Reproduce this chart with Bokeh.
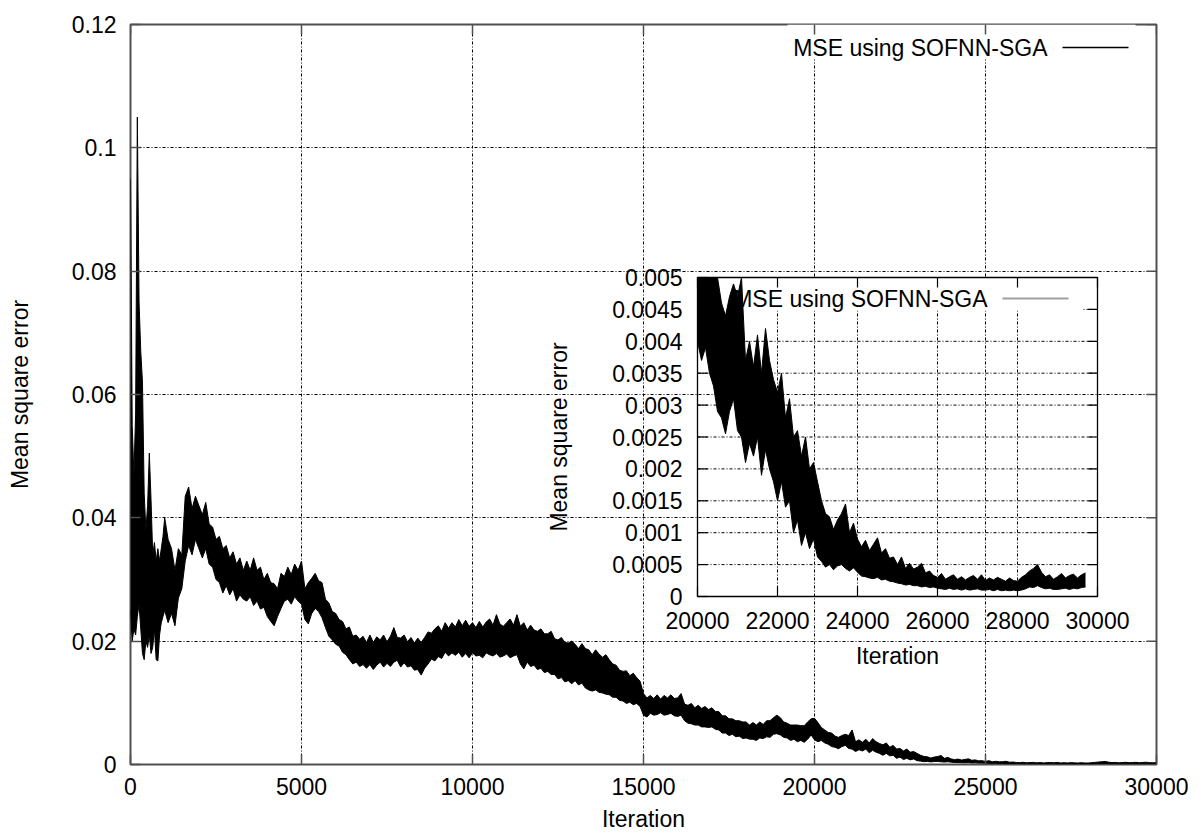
import numpy as np
from bokeh.plotting import figure
from bokeh.models import Range1d, FixedTicker
from bokeh.embed import file_html
from bokeh.resources import INLINE
from bokeh.core.properties import value

# ---------------- data ----------------
# sampling grid of the iteration axis
iterations = list(range(0, 1000, 50)) + list(range(1000, 30001, 100))

# upper / lower envelope of the noisy MSE trace, in units of 1e-3
mse_upper_milli = [
    95, 55, 47, 57, 105, 75, 67, 62, 44, 38, 42, 50.5, 43, 34, 36, 33, 35, 33, 35, 37,  # 0-950
    40, 36.5, 35, 31.5, 35, 34, 43.5, 45, 41.5, 43.5,         # 1000
    42, 40.5, 42.5, 39, 38.5, 36.5, 37, 35, 35.5, 33.5,       # 2000
    34.5, 32.5, 33.5, 31.5, 33, 31.5, 33.5, 31.5, 32, 30,     # 3000
    31, 29.5, 29.3, 28.5, 31, 30.5, 32, 30.8, 32.5, 31.5,     # 4000
    33, 28.5, 29.5, 30.2, 31, 29.8, 29.5, 26.8, 26.2, 24.8,   # 5000
    24.5, 23.5, 23.2, 22, 22.3, 20.8, 21, 20.3, 20.8, 19.8,   # 6000
    21, 19.8, 20.7, 20.2, 21, 19.9, 20.8, 22.2, 20.6, 20.5,   # 7000
    21, 19.9, 20.6, 19.7, 20.5, 19.8, 20.6, 21.5, 21.3, 22,   # 8000
    22.5, 21.6, 23, 22.1, 23, 22.3, 23.5, 22.5, 23.4, 22.4,   # 9000
    23, 22.2, 23.2, 22.3, 23.1, 23.6, 22.6, 24.3, 22.8, 22.4,  # 10000
    23, 23.6, 22.6, 24.3, 22.4, 23, 21.8, 22.6, 21.8, 21.6,   # 11000
    22, 21.2, 21.2, 21.6, 20.4, 20.2, 20.6, 19.8, 19.7, 20,   # 12000
    19.5, 18.8, 19.6, 18.8, 18.6, 17.8, 18.6, 17.9, 17.4, 17.8,  # 13000
    17, 16.3, 16.1, 15.3, 15.1, 15.2, 14.4, 14.8, 14.1, 13.5,  # 14000
    11.5, 10.8, 11.2, 10.7, 11.3, 10.6, 11.2, 10.8, 11.3, 10.7,  # 15000
    10.8, 11.5, 9.8, 9.6, 9.9, 9.2, 9.6, 9.1, 9.4, 8.9,       # 16000
    9.2, 8.6, 8.6, 7.9, 7.9, 7.4, 7.4, 7.1, 7.1, 6.9,         # 17000
    6.9, 6.4, 6.8, 6.4, 6.9, 6.5, 7.1, 7.1, 7.6, 8,           # 18000
    7.6, 6.9, 6.7, 6.4, 6.4, 6.4, 6.3, 6.3, 6.9, 7.4,         # 19000
    7.5, 6.8, 6.0, 5.6, 5.2, 5.1, 4.6, 4.4, 4.7, 4.9,         # 20000
    4.7, 5.6, 3.7, 4.0, 3.6, 4.1, 3.5, 4.2, 3.7, 3.4,         # 21000
    3.2, 3.5, 2.8, 3.1, 2.5, 2.6, 2.2, 2.5, 2.0, 2.1,         # 22000
    1.8, 1.5, 1.3, 1.25, 1.05, 1.2, 1.3, 1.45, 1.0, 1.15,     # 23000
    0.9, 0.78, 0.88, 0.72, 0.82, 0.92, 0.68, 0.75, 0.6, 0.62,  # 24000
    0.5, 0.62, 0.44, 0.52, 0.43, 0.46, 0.52, 0.37, 0.4, 0.33,  # 25000
    0.3, 0.36, 0.27, 0.31, 0.34, 0.27, 0.31, 0.26, 0.3, 0.33,  # 26000
    0.27, 0.34, 0.25, 0.29, 0.26, 0.3, 0.27, 0.24, 0.29, 0.25,  # 27000
    0.24, 0.3, 0.34, 0.4, 0.44, 0.5, 0.38, 0.31, 0.34, 0.27,   # 28000
    0.31, 0.36, 0.29, 0.33, 0.35, 0.29, 0.34, 0.37, 0.3, 0.28,  # 29000
    0.3,                                                       # 30000
]
mse_lower_milli = [
    25, 20, 22, 21, 24, 26, 22, 18, 17, 20, 19, 21, 18, 19, 22, 17, 16.8, 21, 23, 24,  # 0-950
    25, 23, 24.5, 22.5, 27, 28.5, 33, 35.5, 34, 36.5,         # 1000
    35, 33.5, 35, 32.5, 32, 30, 29.5, 27.8, 29, 27.5,         # 2000
    28.5, 26.5, 27.5, 26.8, 26.5, 27.2, 25.8, 26.5, 25.2, 25.5,  # 3000
    24, 23.2, 22.5, 24, 25.3, 26.5, 26.8, 26, 27.2, 26.5,     # 4000
    26, 23.5, 22.8, 24.5, 25.3, 24.8, 23.8, 22.2, 20.8, 20.2,  # 5000
    19.5, 19.2, 18.2, 17.8, 17, 16.3, 16.6, 15.9, 16.2, 15.6,  # 6000
    16.2, 15.4, 16.1, 16.6, 15.8, 16.4, 15.9, 16.6, 16.9, 15.8,  # 7000
    16.5, 15.8, 16, 15.3, 15.4, 14.5, 15.6, 16.3, 17.1, 16.8,  # 8000
    17.5, 17.2, 18.2, 17.6, 18.1, 17.7, 18.2, 17.4, 18, 17.3,  # 9000
    18.1, 17.6, 17.7, 17.3, 18.1, 17.8, 17.6, 18, 17.4, 17.6,  # 10000
    17.9, 17.3, 17.6, 17.8, 16.3, 15.5, 16.6, 15.9, 16.1, 15.4,  # 11000
    15.6, 14.9, 15.1, 14.6, 14.6, 13.9, 14.1, 13.4, 13.6, 13.1,  # 12000
    13.6, 12.9, 13.2, 12.4, 12.1, 11.9, 12.1, 11.7, 11.6, 11.4,  # 13000
    11.3, 10.9, 10.9, 10.4, 10.3, 9.9, 10.1, 9.7, 9.9, 9.4,   # 14000
    8, 7.7, 8.3, 8.0, 8.1, 8.4, 8.0, 8.1, 8.3, 7.9,           # 15000
    7.8, 8, 7.1, 6.7, 6.6, 6.4, 6.4, 6.1, 6.1, 6.0,           # 16000
    6.1, 5.7, 5.6, 5.1, 5.1, 4.7, 4.9, 4.5, 4.6, 4.2,         # 17000
    4.3, 4.1, 4.1, 3.9, 4.3, 4.2, 4.5, 4.4, 4.9, 5,           # 18000
    4.8, 4.4, 4.3, 3.9, 4.1, 3.7, 3.9, 3.6, 4.1, 4.8,         # 19000
    4.0, 3.7, 3.9, 3.5, 3.3, 2.9, 2.8, 2.55, 2.9, 3.1,        # 20000
    2.6, 2.5, 2.1, 2.4, 2.2, 2.5, 1.9, 2.3, 2.0, 1.8,         # 21000
    1.5, 1.8, 1.4, 1.5, 1.0, 1.2, 0.8, 1.0, 0.75, 0.9,        # 22000
    0.62, 0.55, 0.46, 0.5, 0.42, 0.48, 0.5, 0.44, 0.4, 0.45,  # 23000
    0.38, 0.32, 0.31, 0.29, 0.28, 0.3, 0.26, 0.27, 0.24, 0.23,  # 24000
    0.21, 0.2, 0.18, 0.19, 0.17, 0.17, 0.15, 0.16, 0.14, 0.15,  # 25000
    0.13, 0.12, 0.11, 0.13, 0.11, 0.12, 0.1, 0.12, 0.1, 0.11,  # 26000
    0.12, 0.1, 0.1, 0.11, 0.09, 0.11, 0.09, 0.1, 0.09, 0.1,   # 27000
    0.09, 0.1, 0.12, 0.15, 0.14, 0.17, 0.14, 0.12, 0.13, 0.11,  # 28000
    0.11, 0.12, 0.13, 0.11, 0.13, 0.12, 0.14, 0.15, 0.13, 0.12,  # 29000
    0.13,                                                      # 30000
]

series_label = "MSE using SOFNN-SGA"
x_label = "Iteration"
y_label = "Mean square error"

x_ticks = [0, 5000, 10000, 15000, 20000, 25000, 30000]
x_tick_labels = ["0", "5000", "10000", "15000", "20000", "25000", "30000"]
y_ticks = [0, 0.02, 0.04, 0.06, 0.08, 0.1, 0.12]
y_tick_labels = ["0", "0.02", "0.04", "0.06", "0.08", "0.1", "0.12"]

inset_x_ticks = [20000, 22000, 24000, 26000, 28000, 30000]
inset_x_labels = ["20000", "22000", "24000", "26000", "28000", "30000"]
inset_y_ticks = [0, 0.0005, 0.001, 0.0015, 0.002, 0.0025, 0.003, 0.0035, 0.004, 0.0045, 0.005]
inset_y_labels = ["0", "0.0005", "0.001", "0.0015", "0.002", "0.0025", "0.003",
                  "0.0035", "0.004", "0.0045", "0.005"]
inset_x_last = 29700   # the inset trace stops here

# ---------------- layout (pixels) ----------------
W, H = 1199, 834
FR_L, FR_R, FR_T, FR_B = 130, 1156, 24, 764
IN_L, IN_R, IN_T, IN_B = 697, 1097, 277, 596
X0, X1, Y0, Y1 = 0, 30000, 0, 0.12
IX0, IX1, IY0, IY1 = 20000, 30000, 0, 0.005

FONT = value("Liberation Sans")
FS = "23px"
GRID_DASH = "3 2 1 2"
FRAME_COL = "#505050"
TICK_LEN = 10


def mx(px):
    return X0 + (px - FR_L) / (FR_R - FR_L) * (X1 - X0)


def my(py):
    return Y0 + (FR_B - py) / (FR_B - FR_T) * (Y1 - Y0)


sx_in = (IX1 - IX0) / (IN_R - IN_L)
sy_in = (IY1 - IY0) / (IN_B - IN_T)


def ix(px):
    return IX0 + (px - IN_L) * sx_in


def iy(py):
    return IY0 + (IN_B - py) * sy_in


p = figure(width=W, height=H, output_backend="svg", toolbar_location=None,
           x_range=Range1d(X0, X1), y_range=Range1d(Y0, Y1),
           min_border_left=FR_L, min_border_right=W - FR_R,
           min_border_top=FR_T, min_border_bottom=H - FR_B,
           background_fill_color="white", border_fill_color="white")
p.extra_x_ranges["ix"] = Range1d(IX0 - (IN_L - FR_L) * sx_in, IX1 + (FR_R - IN_R) * sx_in)
p.extra_y_ranges["iy"] = Range1d(IY0 - (FR_B - IN_B) * sy_in, IY1 + (IN_T - FR_T) * sy_in)

p.outline_line_color = FRAME_COL
p.outline_line_width = 2

# main axes
for ax in (p.xaxis[0], p.yaxis[0]):
    ax.axis_line_color = None
    ax.major_tick_in = TICK_LEN
    ax.major_tick_out = 0
    ax.major_tick_line_color = FRAME_COL
    ax.major_tick_line_width = 1.5
    ax.minor_tick_line_color = None
    ax.major_label_text_font = "Liberation Sans"
    ax.major_label_text_font_size = FS
    ax.major_label_text_color = "black"
    ax.axis_label_text_font = "Liberation Sans"
    ax.axis_label_text_font_size = FS
    ax.axis_label_text_font_style = "normal"
    ax.axis_label_text_color = "black"

p.xaxis.ticker = FixedTicker(ticks=x_ticks)
p.xaxis.major_label_overrides = dict(zip(x_ticks, x_tick_labels))
p.xaxis.major_label_standoff = 13
p.xaxis.axis_label = x_label
p.xaxis.axis_label_standoff = 8

p.yaxis.ticker = FixedTicker(ticks=y_ticks)
p.yaxis.major_label_overrides = dict(zip(y_ticks, y_tick_labels))
p.yaxis.major_label_standoff = 14
p.yaxis.axis_label = y_label
p.yaxis.axis_label_standoff = 36

# main grid
p.xgrid.ticker = FixedTicker(ticks=x_ticks)
p.ygrid.ticker = FixedTicker(ticks=y_ticks)
for g in (p.xgrid[0], p.ygrid[0]):
    g.grid_line_color = "black"
    g.grid_line_dash = GRID_DASH
    g.grid_line_width = 1

x = np.array(iterations, dtype=float)
hi = np.array(mse_upper_milli) / 1000.0
lo = np.array(mse_lower_milli) / 1000.0

# main legend backdrop (blanks the grid under the key)
p.quad(left=mx(787), right=mx(1135), bottom=my(59), top=Y1,
       fill_color="white", line_color=None)

# mirrored inner ticks on top and right
nxt, nyt = len(x_ticks), len(y_ticks)
p.ray(x=x_ticks, y=[Y1] * nxt, length=TICK_LEN, length_units="screen", angle=-np.pi / 2,
      line_color=FRAME_COL, line_width=1.5)
p.ray(x=[X1] * nyt, y=y_ticks, length=TICK_LEN, length_units="screen", angle=np.pi,
      line_color=FRAME_COL, line_width=1.5)

# main trace
p.varea(x=x, y1=lo, y2=hi, fill_color="black")
p.line(x, hi, line_color="black", line_width=1)
p.line(x, lo, line_color="black", line_width=1)

# main key
p.text(x=[mx(1047)], y=[my(47)], text=[series_label], text_align="right",
       text_baseline="middle", text_font=FONT, text_font_size=FS, text_color="black")
p.line(x=[mx(1062), mx(1128)], y=[my(47), my(47)], line_color="black", line_width=1.3)

# ---------------- inset ----------------
R = dict(x_range_name="ix", y_range_name="iy")
gx = inset_x_ticks[1:-1]
gy = inset_y_ticks[1:-1]
p.segment(x0=gx, y0=[IY0] * len(gx), x1=gx, y1=[IY1] * len(gx),
          line_color="black", line_dash=GRID_DASH, line_width=1, **R)
p.segment(x0=[IX0] * len(gy), y0=gy, x1=[IX1] * len(gy), y1=gy,
          line_color="black", line_dash=GRID_DASH, line_width=1, **R)

# inset key backdrop
p.quad(left=ix(700), right=ix(1083), bottom=iy(310), top=IY1,
       fill_color="white", line_color=None, **R)

mask = (x >= IX0) & (x <= inset_x_last)
ihi = np.minimum(hi[mask], IY1)
ilo = np.minimum(lo[mask], IY1)
p.varea(x=x[mask], y1=ilo, y2=ihi, fill_color="black", **R)
p.line(x[mask], ihi, line_color="black", line_width=1, **R)
p.line(x[mask], ilo, line_color="black", line_width=1, **R)

# inset frame and inner ticks
p.quad(left=IX0, right=IX1, bottom=IY0, top=IY1, fill_color=None,
       line_color="black", line_width=1.3, **R)
nx, ny = len(inset_x_ticks), len(inset_y_ticks)
p.ray(x=inset_x_ticks, y=[IY0] * nx, length=TICK_LEN, length_units="screen", angle=np.pi / 2,
      line_color="black", line_width=1.2, **R)
p.ray(x=inset_x_ticks, y=[IY1] * nx, length=TICK_LEN, length_units="screen", angle=-np.pi / 2,
      line_color="black", line_width=1.2, **R)
p.ray(x=[IX0] * ny, y=inset_y_ticks, length=TICK_LEN, length_units="screen", angle=0,
      line_color="black", line_width=1.2, **R)
p.ray(x=[IX1] * ny, y=inset_y_ticks, length=TICK_LEN, length_units="screen", angle=np.pi,
      line_color="black", line_width=1.2, **R)

# inset texts
p.text(x=[IX0] * ny, y=inset_y_ticks, text=inset_y_labels, x_offset=-15,
       text_align="right", text_baseline="middle", text_font=FONT, text_font_size=FS,
       text_color="black", **R)
p.text(x=inset_x_ticks, y=[IY0] * nx, text=inset_x_labels, y_offset=24,
       text_align="center", text_baseline="middle", text_font=FONT, text_font_size=FS,
       text_color="black", **R)
p.text(x=[(IX0 + IX1) / 2], y=[IY0], text=[x_label], y_offset=59,
       text_align="center", text_baseline="middle", text_font=FONT, text_font_size=FS,
       text_color="black", **R)
p.text(x=[IX0], y=[(IY0 + IY1) / 2], text=[y_label], x_offset=-139, angle=np.pi / 2,
       text_align="center", text_baseline="middle", text_font=FONT, text_font_size=FS,
       text_color="black", **R)

# inset key
p.text(x=[ix(987)], y=[iy(298)], text=[series_label], text_align="right",
       text_baseline="middle", text_font=FONT, text_font_size=FS, text_color="black", **R)
p.line(x=[ix(1002), ix(1068)], y=[iy(298), iy(298)], line_color="#a0a0a0",
       line_width=2, **R)

open("out.html", "w").write(file_html(p, INLINE))
